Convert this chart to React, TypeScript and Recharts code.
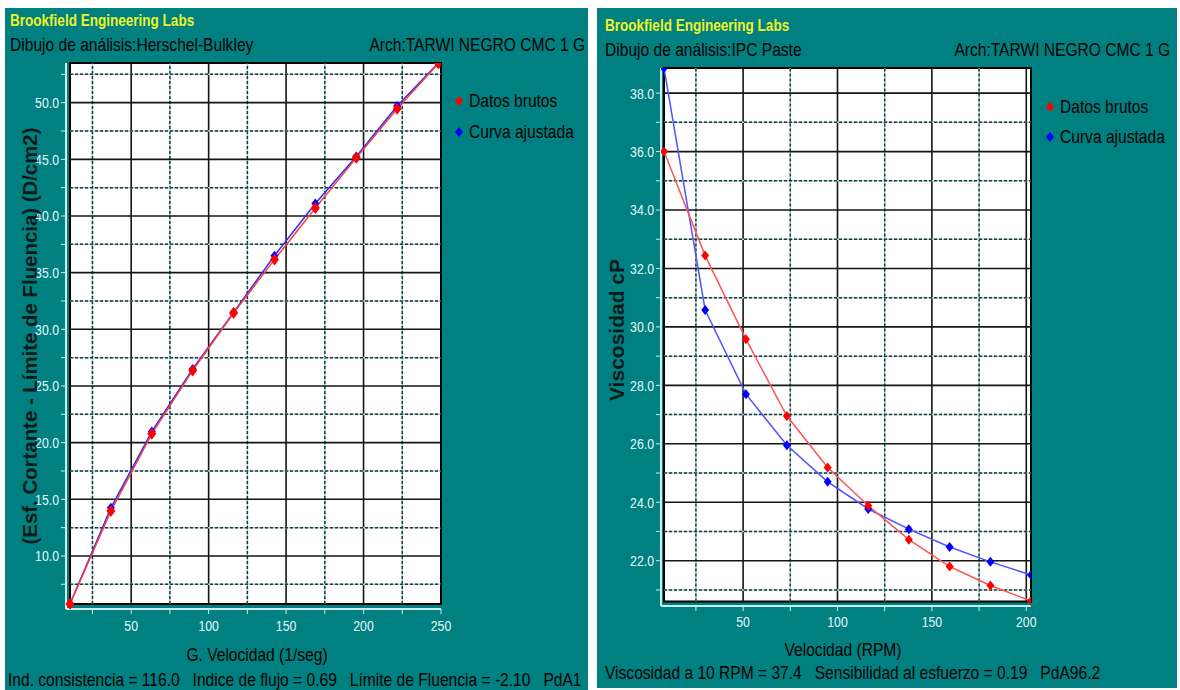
import React from 'react';
import { LineChart, Line, XAxis, YAxis, ReferenceArea, ReferenceLine } from 'recharts';

// Herschel-Bulkley (left)
const hbShear = [10.5, 36.9, 63.3, 89.7, 116.1, 142.5, 168.9, 195.3, 221.7, 248.3];
const hbRaw = [5.76, 13.97, 20.78, 26.37, 31.44, 36.15, 40.7, 45.13, 49.47, 53.45];
const hbFit = [5.76, 14.25, 20.98, 26.5, 31.5, 36.5, 41.1, 45.25, 49.7, 53.5];
const hbXTicks = [25, 50, 75, 100, 125, 150, 175, 200, 225, 250];
const hbYTicks = [7.5, 10, 12.5, 15, 17.5, 20, 22.5, 25, 27.5, 30, 32.5, 35, 37.5, 40, 42.5, 45, 47.5, 50, 52.5];

// IPC Paste (right)
const ipcRpm = [8.1, 29.9, 51.5, 73.2, 94.8, 116.3, 137.8, 159.4, 181.0, 202.5];
const ipcRaw = [36.0, 32.44, 29.58, 26.95, 25.19, 23.88, 22.72, 21.8, 21.15, 20.62];
const ipcFit = [38.86, 30.58, 27.7, 25.95, 24.7, 23.77, 23.08, 22.47, 21.96, 21.51];
const ipcXTicks = [25, 50, 75, 100, 125, 150, 175, 200];
const ipcYTicks = [21, 22, 23, 24, 25, 26, 27, 28, 29, 30, 31, 32, 33, 34, 35, 36, 37, 38];

const TEAL = '#008080';
const SANS = "'Liberation Sans', Arial, sans-serif";
const TICK_FILL = '#e4fafa';
const SQUEEZE = 0.82; // Arial Narrow look

const hbData = hbShear.map((x, i) => ({ x, raw: hbRaw[i], fit: hbFit[i] }));
const ipcData = ipcRpm.map((x, i) => ({ x, raw: ipcRaw[i], fit: ipcFit[i] }));

const Diamond = (props: any) => {
  const { cx, cy, fill, w = 4, h = 5 } = props;
  if (cx == null || cy == null) return null;
  return <polygon points={`${cx},${cy - h} ${cx + w},${cy} ${cx},${cy + h} ${cx - w},${cy}`} fill={fill} />;
};

// squeezed tick label
const NarrowTick = (props: any) => {
  const { x, y, payload, textAnchor, fmt, dy } = props;
  return (
    <g transform={`translate(${x},${y}) scale(${SQUEEZE},1)`}>
      <text x={0} y={0} dy={dy} textAnchor={textAnchor} fill={TICK_FILL} fontSize={15} fontFamily={SANS}>
        {fmt(payload.value)}
      </text>
    </g>
  );
};

const Narrow = ({ children, style, origin = 'left' }: any) => (
  <div style={{
    position: 'absolute', fontFamily: SANS, fontSize: 19, lineHeight: '22px', color: '#000', whiteSpace: 'pre',
    transformOrigin: origin, ...style,
    transform: (style && style.transform ? style.transform + ' ' : '') + `scaleX(${SQUEEZE})`,
  }}>
    {children}
  </div>
);

const LegendItem = ({ color, text, left, top }: any) => (
  <>
    <svg width={10} height={12} style={{ position: 'absolute', left, top: top + 5 }}>
      <polygon points="5,1 9,6 5,11 1,6" fill={color} />
    </svg>
    <Narrow style={{ left: left + 15, top }}>{text}</Narrow>
  </>
);

const gridLines = (xs: number[], ys: number[], solidX: (v: number) => boolean, solidY: (v: number) => boolean, box: number[]) => {
  const [x0, x1, y0, y1] = box;
  const out: React.ReactNode[] = [];
  const push = (k: string, seg: any, solid: boolean) => {
    if (solid) {
      out.push(<ReferenceLine key={k + 's'} segment={seg} stroke="#151515" strokeWidth={1.6} />);
    } else {
      out.push(<ReferenceLine key={k + 'c'} segment={seg} stroke="#8fdada" strokeWidth={1.5} />);
      out.push(<ReferenceLine key={k + 'd'} segment={seg} stroke="#333" strokeWidth={1.5} strokeDasharray="3 2" />);
    }
  };
  xs.filter(v => v < x1).forEach(v => push('x' + v, [{ x: v, y: y0 }, { x: v, y: y1 }], solidX(v)));
  ys.filter(v => v < y1).forEach(v => push('y' + v, [{ x: x0, y: v }, { x: x1, y: v }], solidY(v)));
  return out;
};

const LeftPanel = () => {
  const box = [10.5, 250, 5.76, 53.5];
  const fmtX = (v: number) => (v % 50 === 0 ? String(v) : '');
  const fmtY = (v: number) => (v % 5 === 0 ? v.toFixed(1) : '');
  return (
    <div style={{ position: 'absolute', left: 5, top: 8, width: 583, height: 682, background: TEAL, overflow: 'hidden' }}>
      <Narrow style={{ left: 5, top: 1, fontSize: 16.5, fontWeight: 'bold', color: '#eef22a' }}>Brookfield Engineering Labs</Narrow>
      <Narrow style={{ left: 5, top: 26 }}>Dibujo de análisis:Herschel-Bulkley</Narrow>
      <Narrow style={{ right: 3, top: 26 }} origin="right">Arch:TARWI NEGRO CMC 1 G</Narrow>
      <LineChart width={583} height={682} data={hbData} margin={{ top: 55, right: 147, left: 0, bottom: 51 }}>
        <ReferenceArea x1={box[0]} x2={box[1]} y1={box[2]} y2={box[3]} fill="#fff" fillOpacity={1} stroke="#000" strokeWidth={2} />
        {gridLines(hbXTicks, hbYTicks, v => v % 50 === 0, v => v % 5 === 0, box)}
        <XAxis
          dataKey="x" type="number" domain={[7.92, 250]} allowDataOverflow ticks={hbXTicks} interval={0}
          height={30} tickSize={5} tickMargin={6}
          axisLine={{ stroke: '#c8f0f0', strokeWidth: 2 }} tickLine={{ stroke: '#c8f0f0' }}
          tick={(p: any) => <NarrowTick {...p} fmt={fmtX} dy="0.75em" />}
        />
        <YAxis
          type="number" domain={[5.32, 53.5]} allowDataOverflow ticks={hbYTicks} interval={0}
          width={61} tickSize={5} tickMargin={2}
          axisLine={{ stroke: '#c8f0f0', strokeWidth: 2 }} tickLine={{ stroke: '#c8f0f0' }}
          tick={(p: any) => <NarrowTick {...p} fmt={fmtY} dy="0.36em" />}
        />
        <Line dataKey="fit" stroke="#2a2aff" strokeWidth={1.5} isAnimationActive={false}
          dot={(p: any) => <Diamond key={'f' + p.index} cx={p.cx} cy={p.cy} fill="#0000ff" />} />
        <Line dataKey="raw" stroke="#ff3b3b" strokeWidth={1.5} isAnimationActive={false}
          dot={(p: any) => <Diamond key={'r' + p.index} cx={p.cx} cy={p.cy} fill="#ff0000" w={4.5} h={6} />} />
      </LineChart>
      <LegendItem color="#ff0000" text="Datos brutos" left={449} top={82} />
      <LegendItem color="#0000ff" text="Curva ajustada" left={449} top={113} />
      <Narrow style={{ left: 252, top: 636, transform: 'translateX(-50%)' }} origin="center">G. Velocidad (1/seg)</Narrow>
      <div style={{ position: 'absolute', left: 25, top: 328, transform: 'translate(-50%, -50%) rotate(-90deg)', fontFamily: SANS, fontWeight: 'bold', fontSize: 20.4, color: '#0a1a1a', whiteSpace: 'pre' }}>
        (Esf. Cortante - Límite de Fluencia) (D/cm2)
      </div>
      <Narrow style={{ left: 3, top: 661 }}>{'Ind. consistencia = 116.0   Indice de flujo = 0.69   Límite de Fluencia = -2.10   PdA1'}</Narrow>
    </div>
  );
};

const RightPanel = () => {
  const box = [8.1, 202.5, 20.6, 38.86];
  const fmtX = (v: number) => (v % 50 === 0 ? String(v) : '');
  const fmtY = (v: number) => (v % 2 === 0 ? v.toFixed(1) : '');
  return (
    <div style={{ position: 'absolute', left: 597, top: 8, width: 580, height: 680, background: TEAL, overflow: 'hidden' }}>
      <Narrow style={{ left: 8, top: 6, fontSize: 16.5, fontWeight: 'bold', color: '#eef22a' }}>Brookfield Engineering Labs</Narrow>
      <Narrow style={{ left: 8, top: 31 }}>Dibujo de análisis:IPC Paste</Narrow>
      <Narrow style={{ right: 7, top: 31 }} origin="right">Arch:TARWI NEGRO CMC 1 G</Narrow>
      <LineChart width={580} height={680} data={ipcData} margin={{ top: 60, right: 146, left: 0, bottom: 52 }}>
        <ReferenceArea x1={box[0]} x2={box[1]} y1={box[2]} y2={box[3]} fill="#fff" fillOpacity={1} stroke="#000" strokeWidth={2} />
        {gridLines(ipcXTicks, ipcYTicks, v => v % 50 === 0, v => v % 2 === 0, box)}
        <XAxis
          dataKey="x" type="number" domain={[6.51, 202.5]} allowDataOverflow ticks={ipcXTicks} interval={0}
          height={30} tickSize={5} tickMargin={5}
          axisLine={{ stroke: '#c8f0f0', strokeWidth: 2 }} tickLine={{ stroke: '#c8f0f0' }}
          tick={(p: any) => <NarrowTick {...p} fmt={fmtX} dy="0.75em" />}
        />
        <YAxis
          type="number" domain={[20.45, 38.86]} allowDataOverflow ticks={ipcYTicks} interval={0}
          width={64} tickSize={5} tickMargin={2}
          axisLine={{ stroke: '#c8f0f0', strokeWidth: 2 }} tickLine={{ stroke: '#c8f0f0' }}
          tick={(p: any) => <NarrowTick {...p} fmt={fmtY} dy="0.36em" />}
        />
        <Line dataKey="fit" stroke="#5252ff" strokeWidth={1.5} isAnimationActive={false}
          dot={(p: any) => <Diamond key={'f' + p.index} cx={p.cx} cy={p.cy} fill="#0000ff" />} />
        <Line dataKey="raw" stroke="#ff5555" strokeWidth={1.5} isAnimationActive={false}
          dot={(p: any) => <Diamond key={'r' + p.index} cx={p.cx} cy={p.cy} fill="#ff0000" />} />
      </LineChart>
      <LegendItem color="#ff0000" text="Datos brutos" left={448} top={88} />
      <LegendItem color="#0000ff" text="Curva ajustada" left={448} top={118} />
      <Narrow style={{ left: 246, top: 631, transform: 'translateX(-50%)' }} origin="center">Velocidad (RPM)</Narrow>
      <div style={{ position: 'absolute', left: 20, top: 322, transform: 'translate(-50%, -50%) rotate(-90deg)', fontFamily: SANS, fontWeight: 'bold', fontSize: 21, color: '#0a1a1a', whiteSpace: 'pre' }}>
        Viscosidad cP
      </div>
      <Narrow style={{ left: 8, top: 654 }}>{'Viscosidad a 10 RPM = 37.4   Sensibilidad al esfuerzo = 0.19   PdA96.2'}</Narrow>
    </div>
  );
};

const App: React.FC = () => {
  return (
    <div style={{ position: 'absolute', left: 0, top: 0, width: 1180, height: 690, background: '#fff', overflow: 'hidden' }}>
      <LeftPanel />
      <RightPanel />
    </div>
  );
};

export default App;
